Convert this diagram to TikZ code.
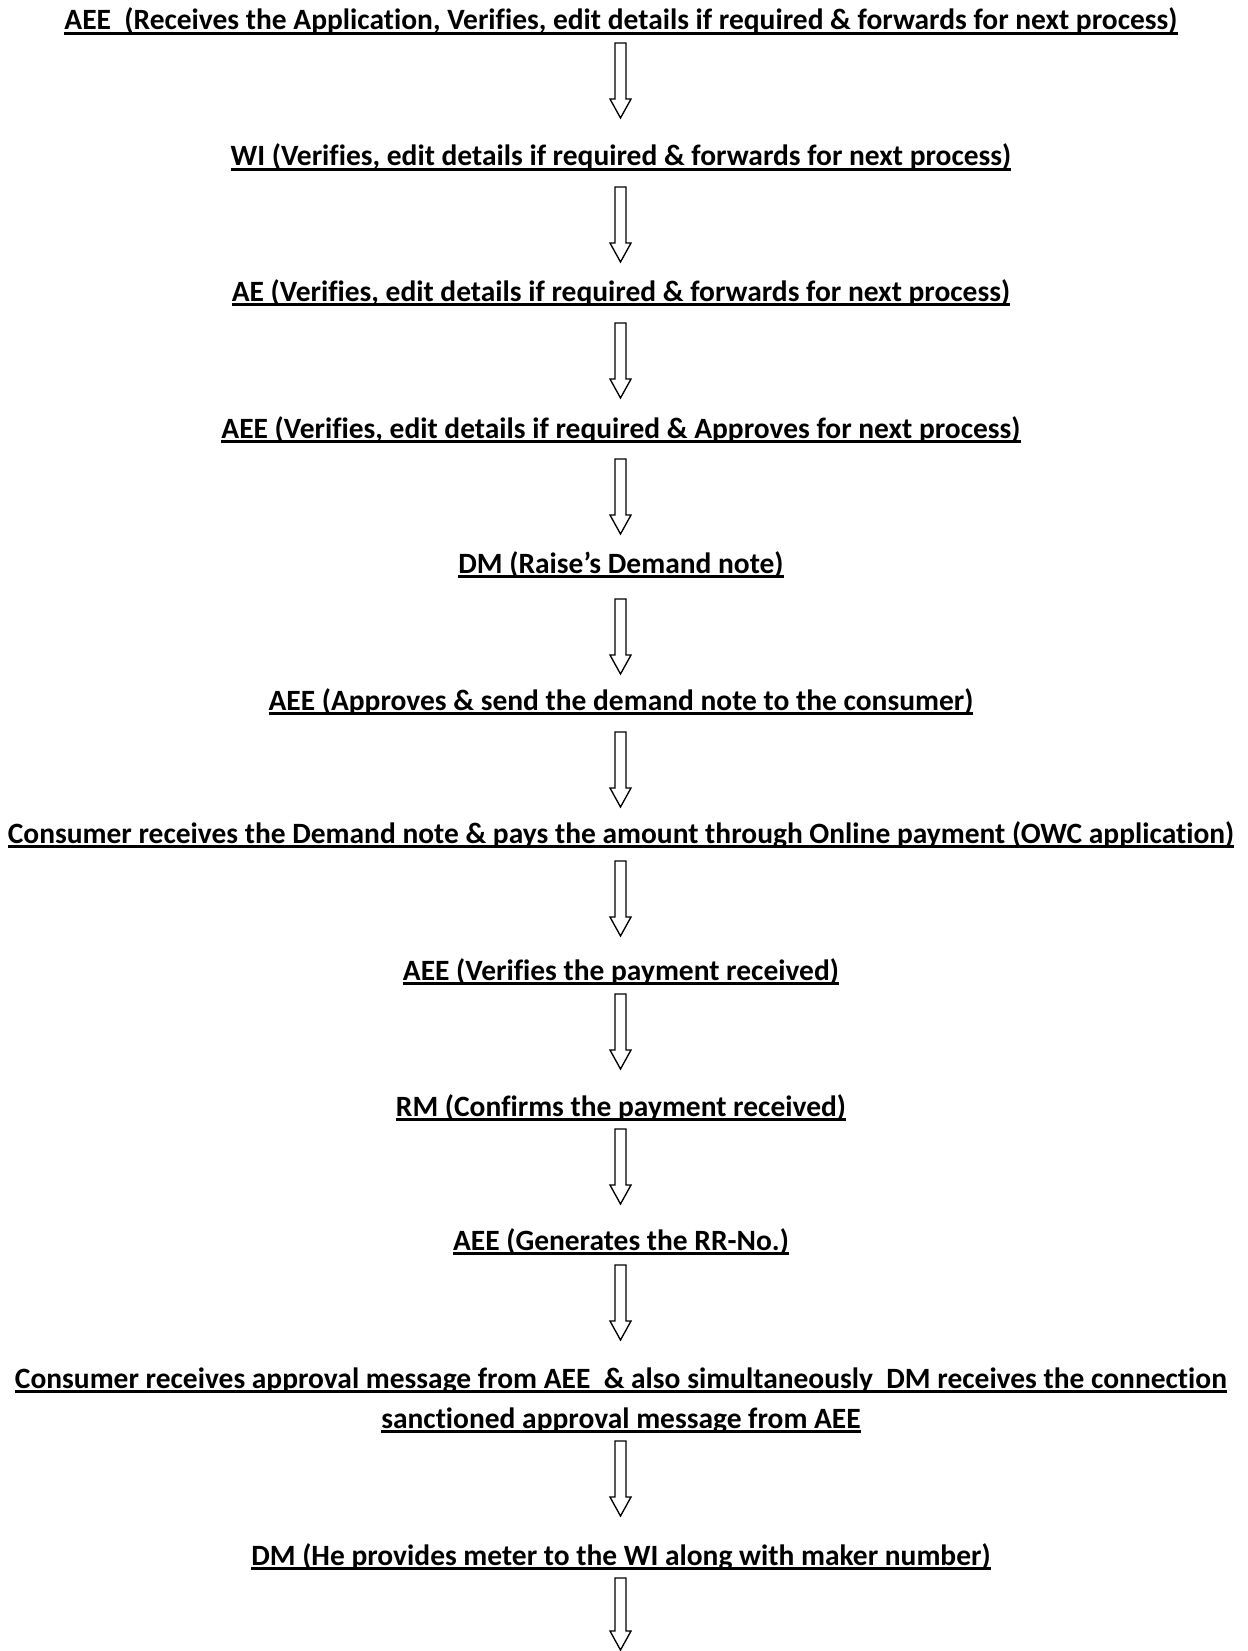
\documentclass[tikz,border=0pt]{standalone}
\usepackage{fontspec}
\setmainfont[Ligatures=NoCommon]{Carlito}
\usetikzlibrary{calc}
\newcommand\myul[1]{\setbox0\hbox{#1}\rlap{\rule[-3.5pt]{\wd0}{2pt}}\box0}
\tikzset{
  steptext/.style={anchor=base, inner sep=0pt, font=\fontsize{22.1}{26}\selectfont\bfseries},
  arr/.style={draw=black, line width=1pt, fill=white, line join=miter}
}
\newcommand\flowarrow[2]{%
  \draw[arr] ($(#1)+(-5.5,0)$) -- ($(#2)+(-5.5,-19)$) -- ($(#2)+(-10.5,-19)$) -- (#2)
    -- ($(#2)+(10.5,-19)$) -- ($(#2)+(5.5,-19)$) -- ($(#1)+(5.5,0)$) -- cycle;}
\begin{document}
\begin{tikzpicture}[x=0.75pt, y=-0.75pt]
\useasboundingbox (0,0) rectangle (1247,1651);
\node[steptext] (t1) at (621,30) {\myul{AEE\ \ (Receives the Application, Verifies, edit details if required \& forwards for next process)}};
\node[steptext] (t2) at (621,166) {\myul{WI (Verifies, edit details if required \& forwards for next process)}};
\node[steptext] (t3) at (621,301) {\myul{AE (Verifies, edit details if required \& forwards for next process)}};
\node[steptext] (t4) at (621,438) {\myul{AEE (Verifies, edit details if required \& Approves for next process)}};
\node[steptext] (t5) at (621,573) {\myul{DM (Raise’s Demand note)}};
\node[steptext] (t6) at (621,710) {\myul{AEE (Approves \& send the demand note to the consumer)}};
\node[steptext] (t7) at (621,843) {\myul{Consumer receives the Demand note \& pays the amount through Online payment (OWC application)}};
\node[steptext] (t8) at (621,980) {\myul{AEE (Verifies the payment received)}};
\node[steptext] (t9) at (621,1116) {\myul{RM (Confirms the payment received)}};
\node[steptext] (t10) at (621,1250) {\myul{AEE (Generates the RR-No.)}};
\node[steptext] (t11a) at (621,1388) {\myul{Consumer receives approval message from AEE\ \ \& also simultaneously\ \ DM receives the connection}};
\node[steptext] (t11b) at (621,1428) {\myul{sanctioned approval message from AEE}};
\node[steptext] (t12) at (621,1565) {\myul{DM (He provides meter to the WI along with maker number)}};
\coordinate (s1) at (620.5,43);   \coordinate (e1) at (620.5,118);
\coordinate (s2) at (620.5,187);  \coordinate (e2) at (620.5,262);
\coordinate (s3) at (620.5,323);  \coordinate (e3) at (620.5,398);
\coordinate (s4) at (620.5,459);  \coordinate (e4) at (620.5,534);
\coordinate (s5) at (620.5,599);  \coordinate (e5) at (620.5,674);
\coordinate (s6) at (620.5,732);  \coordinate (e6) at (620.5,807);
\coordinate (s7) at (620.5,861);  \coordinate (e7) at (620.5,936);
\coordinate (s8) at (620.5,994);  \coordinate (e8) at (620.5,1069);
\coordinate (s9) at (620.5,1129); \coordinate (e9) at (620.5,1204);
\coordinate (s10) at (620.5,1265); \coordinate (e10) at (620.5,1340);
\coordinate (s11) at (620.5,1441); \coordinate (e11) at (620.5,1516);
\coordinate (s12) at (620.5,1578); \coordinate (e12) at (620.5,1650);
\foreach \i in {1,...,12} {\flowarrow{s\i}{e\i}}
\end{tikzpicture}
\end{document}
